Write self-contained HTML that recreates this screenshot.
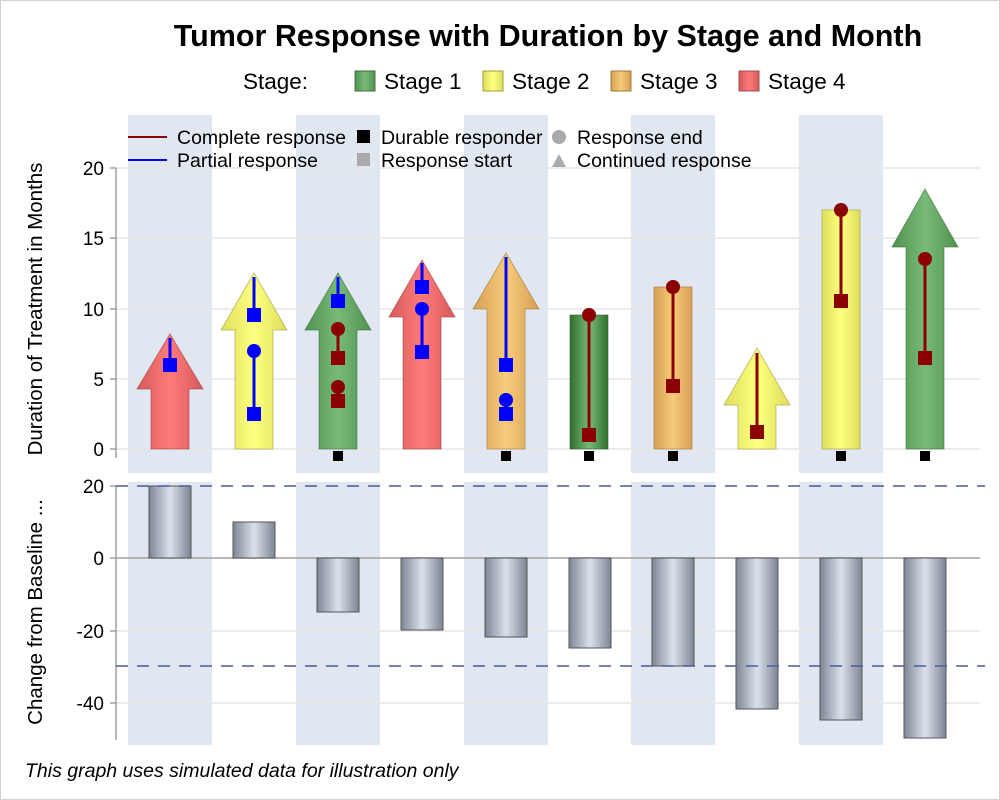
<!DOCTYPE html>
<html><head><meta charset="utf-8"><style>
body{margin:0;background:#fff}
svg{display:block;font-family:"Liberation Sans",sans-serif}
</style></head><body>
<svg width="1000" height="800" viewBox="0 0 1000 800">
<defs>
<linearGradient id="gR" x1="0" x2="1"><stop offset="0" stop-color="#d65a5a"/><stop offset=".5" stop-color="#ff7a7a"/><stop offset="1" stop-color="#d65a5a"/></linearGradient>
<linearGradient id="gY" x1="0" x2="1"><stop offset="0" stop-color="#dede5c"/><stop offset=".5" stop-color="#ffff80"/><stop offset="1" stop-color="#dede5c"/></linearGradient>
<linearGradient id="gG" x1="0" x2="1"><stop offset="0" stop-color="#4f914f"/><stop offset=".5" stop-color="#78bb78"/><stop offset="1" stop-color="#4f914f"/></linearGradient>
<linearGradient id="gGd" x1="0" x2="1"><stop offset="0" stop-color="#2f6f2f"/><stop offset=".5" stop-color="#78bb78"/><stop offset="1" stop-color="#2f6f2f"/></linearGradient>
<linearGradient id="gO" x1="0" x2="1"><stop offset="0" stop-color="#d69e55"/><stop offset=".5" stop-color="#f7cc7a"/><stop offset="1" stop-color="#d69e55"/></linearGradient>
<linearGradient id="gB" x1="0" x2="1"><stop offset="0" stop-color="#7d8594"/><stop offset=".5" stop-color="#dbe1ec"/><stop offset="1" stop-color="#7d8594"/></linearGradient>
</defs>
<rect x="0.5" y="0.5" width="999" height="799" fill="#fff" stroke="#d0d0d0"/>
<text x="548" y="46" font-size="30.5" font-weight="bold" text-anchor="middle">Tumor Response with Duration by Stage and Month</text>
<g font-size="22.5">
<text x="243" y="89">Stage:</text>
<rect x="355" y="71" width="20" height="20" fill="url(#gG)" stroke="#3f6f3f"/><text x="384" y="89">Stage 1</text>
<rect x="483" y="71" width="20" height="20" fill="url(#gY)" stroke="#9f9f3f"/><text x="512" y="89">Stage 2</text>
<rect x="611" y="71" width="20" height="20" fill="url(#gO)" stroke="#9f7a3f"/><text x="640" y="89">Stage 3</text>
<rect x="739" y="71" width="20" height="20" fill="url(#gR)" stroke="#9f4f4f"/><text x="768" y="89">Stage 4</text>
</g>
<g fill="#e1e7f0">
<rect x="128" y="115" width="84" height="358"/><rect x="296" y="115" width="84" height="358"/><rect x="464" y="115" width="84" height="358"/><rect x="631" y="115" width="84" height="358"/><rect x="799" y="115" width="84" height="358"/>
<rect x="128" y="482" width="84" height="263"/><rect x="296" y="482" width="84" height="263"/><rect x="464" y="482" width="84" height="263"/><rect x="631" y="482" width="84" height="263"/><rect x="799" y="482" width="84" height="263"/>
</g>
<g stroke="#e6e6e6" stroke-width="1.5">
<line x1="116" y1="168" x2="980" y2="168"/><line x1="116" y1="238" x2="980" y2="238"/><line x1="116" y1="309" x2="980" y2="309"/><line x1="116" y1="379" x2="980" y2="379"/><line x1="116" y1="449" x2="980" y2="449"/>
<line x1="116" y1="631" x2="980" y2="631"/><line x1="116" y1="703" x2="980" y2="703"/>
</g>
<line x1="116" y1="558" x2="980" y2="558" stroke="#a0a0a0" stroke-width="1.5"/>
<g stroke="#a0a0a0" stroke-width="1.5">
<line x1="116" y1="168" x2="116" y2="458"/><line x1="116" y1="486" x2="116" y2="740"/>
<line x1="110" y1="168" x2="116" y2="168"/><line x1="110" y1="238" x2="116" y2="238"/><line x1="110" y1="309" x2="116" y2="309"/><line x1="110" y1="379" x2="116" y2="379"/><line x1="110" y1="449" x2="116" y2="449"/>
<line x1="110" y1="486" x2="116" y2="486"/><line x1="110" y1="558" x2="116" y2="558"/><line x1="110" y1="631" x2="116" y2="631"/><line x1="110" y1="703" x2="116" y2="703"/>
</g>
<g font-size="19" text-anchor="end">
<text x="104" y="175">20</text><text x="104" y="245">15</text><text x="104" y="316">10</text><text x="104" y="386">5</text><text x="104" y="456">0</text>
<text x="104" y="493">20</text><text x="104" y="565">0</text><text x="104" y="638">-20</text><text x="104" y="710">-40</text>
</g>
<text transform="translate(42,309) rotate(-90)" font-size="20.5" text-anchor="middle">Duration of Treatment in Months</text>
<text transform="translate(42,612) rotate(-90)" font-size="20.5" text-anchor="middle">Change from Baseline ...</text>
<g font-size="19.5">
<line x1="128" y1="137" x2="167" y2="137" stroke="#8b0000" stroke-width="2"/><text x="177" y="144">Complete response</text>
<line x1="128" y1="160" x2="167" y2="160" stroke="#0000ff" stroke-width="2"/><text x="177" y="167">Partial response</text>
<rect x="357" y="130" width="13" height="13" fill="#000"/><text x="381" y="144">Durable responder</text>
<rect x="357" y="153" width="13" height="13" fill="#aaa"/><text x="381" y="167">Response start</text>
<circle cx="559" cy="137" r="7" fill="#aaa"/><text x="577" y="144">Response end</text>
<polygon points="552,167 559,154 566,167" fill="#aaa"/><text x="577" y="167">Continued response</text>
</g>
<g stroke-opacity=".6">
<polygon points="151,449 151,389 137,389 170,334 203,389 189,389 189,449" fill="url(#gR)" stroke="#a04040"/>
<polygon points="235,449 235,330 221,330 254,273 287,330 273,330 273,449" fill="url(#gY)" stroke="#a0a040"/>
<polygon points="319,449 319,330 305,330 338,273 371,330 357,330 357,449" fill="url(#gG)" stroke="#3f6f3f"/>
<polygon points="403,449 403,317 389,317 422,260 455,317 441,317 441,449" fill="url(#gR)" stroke="#a04040"/>
<polygon points="487,449 487,309 473,309 506,253 539,309 525,309 525,449" fill="url(#gO)" stroke="#a07a40"/>
<rect x="570" y="315" width="38" height="134" fill="url(#gGd)" stroke="#2f5f2f"/>
<rect x="654" y="287" width="38" height="162" fill="url(#gO)" stroke="#a07a40"/>
<polygon points="738,449 738,405 724,405 757,348 790,405 776,405 776,449" fill="url(#gY)" stroke="#a0a040"/>
<rect x="822" y="210" width="38" height="239" fill="url(#gY)" stroke="#a0a040"/>
<polygon points="906,449 906,247 892,247 925,189 958,247 944,247 944,449" fill="url(#gG)" stroke="#3f6f3f"/>
</g>
<g stroke-width="3">
<line x1="170" y1="365" x2="170" y2="338" stroke="#00f"/><rect x="163" y="358" width="14" height="14" fill="#00f"/>
<line x1="254" y1="414" x2="254" y2="351" stroke="#00f"/><rect x="247" y="407" width="14" height="14" fill="#00f"/><circle cx="254" cy="351" r="7" fill="#00f"/>
<line x1="254" y1="315" x2="254" y2="277" stroke="#00f"/><rect x="247" y="308" width="14" height="14" fill="#00f"/>
<rect x="331" y="394" width="14" height="14" fill="#8b0000"/><circle cx="338" cy="387" r="7" fill="#8b0000"/>
<line x1="338" y1="358" x2="338" y2="329" stroke="#8b0000"/><rect x="331" y="351" width="14" height="14" fill="#8b0000"/><circle cx="338" cy="329" r="7" fill="#8b0000"/>
<line x1="338" y1="301" x2="338" y2="277" stroke="#00f"/><rect x="331" y="294" width="14" height="14" fill="#00f"/>
<line x1="422" y1="352" x2="422" y2="309" stroke="#00f"/><rect x="415" y="345" width="14" height="14" fill="#00f"/><circle cx="422" cy="309" r="7" fill="#00f"/>
<line x1="422" y1="287" x2="422" y2="263" stroke="#00f"/><rect x="415" y="280" width="14" height="14" fill="#00f"/>
<rect x="499" y="407" width="14" height="14" fill="#00f"/><circle cx="506" cy="400" r="7" fill="#00f"/>
<line x1="506" y1="365" x2="506" y2="257" stroke="#00f"/><rect x="499" y="358" width="14" height="14" fill="#00f"/>
<line x1="589" y1="435" x2="589" y2="315" stroke="#8b0000"/><rect x="582" y="428" width="14" height="14" fill="#8b0000"/><circle cx="589" cy="315" r="7" fill="#8b0000"/>
<line x1="673" y1="386" x2="673" y2="287" stroke="#8b0000"/><rect x="666" y="379" width="14" height="14" fill="#8b0000"/><circle cx="673" cy="287" r="7" fill="#8b0000"/>
<line x1="757" y1="432" x2="757" y2="353" stroke="#8b0000"/><rect x="750" y="425" width="14" height="14" fill="#8b0000"/>
<line x1="841" y1="301" x2="841" y2="210" stroke="#8b0000"/><rect x="834" y="294" width="14" height="14" fill="#8b0000"/><circle cx="841" cy="210" r="7" fill="#8b0000"/>
<line x1="925" y1="358" x2="925" y2="259" stroke="#8b0000"/><rect x="918" y="351" width="14" height="14" fill="#8b0000"/><circle cx="925" cy="259" r="7" fill="#8b0000"/>
</g>
<g fill="#000">
<rect x="333" y="451" width="10" height="10"/><rect x="501" y="451" width="10" height="10"/><rect x="584" y="451" width="10" height="10"/><rect x="668" y="451" width="10" height="10"/><rect x="836" y="451" width="10" height="10"/><rect x="920" y="451" width="10" height="10"/>
</g>
<g fill="url(#gB)" stroke="#555" stroke-width="1">
<rect x="149" y="486" width="42" height="72"/>
<rect x="233" y="522" width="42" height="36"/>
<rect x="317" y="558" width="42" height="54"/>
<rect x="401" y="558" width="42" height="72"/>
<rect x="485" y="558" width="42" height="79"/>
<rect x="569" y="558" width="42" height="90"/>
<rect x="652" y="558" width="42" height="108"/>
<rect x="736" y="558" width="42" height="151"/>
<rect x="820" y="558" width="42" height="162"/>
<rect x="904" y="558" width="42" height="180"/>
</g>
<g stroke="#4a5a9a" stroke-width="1.5" stroke-dasharray="12,9">
<line x1="116" y1="486" x2="985" y2="486"/><line x1="116" y1="666" x2="985" y2="666"/>
</g>
<text x="25" y="777" font-size="19.5" font-style="italic">This graph uses simulated data for illustration only</text>
</svg>
</body></html>
